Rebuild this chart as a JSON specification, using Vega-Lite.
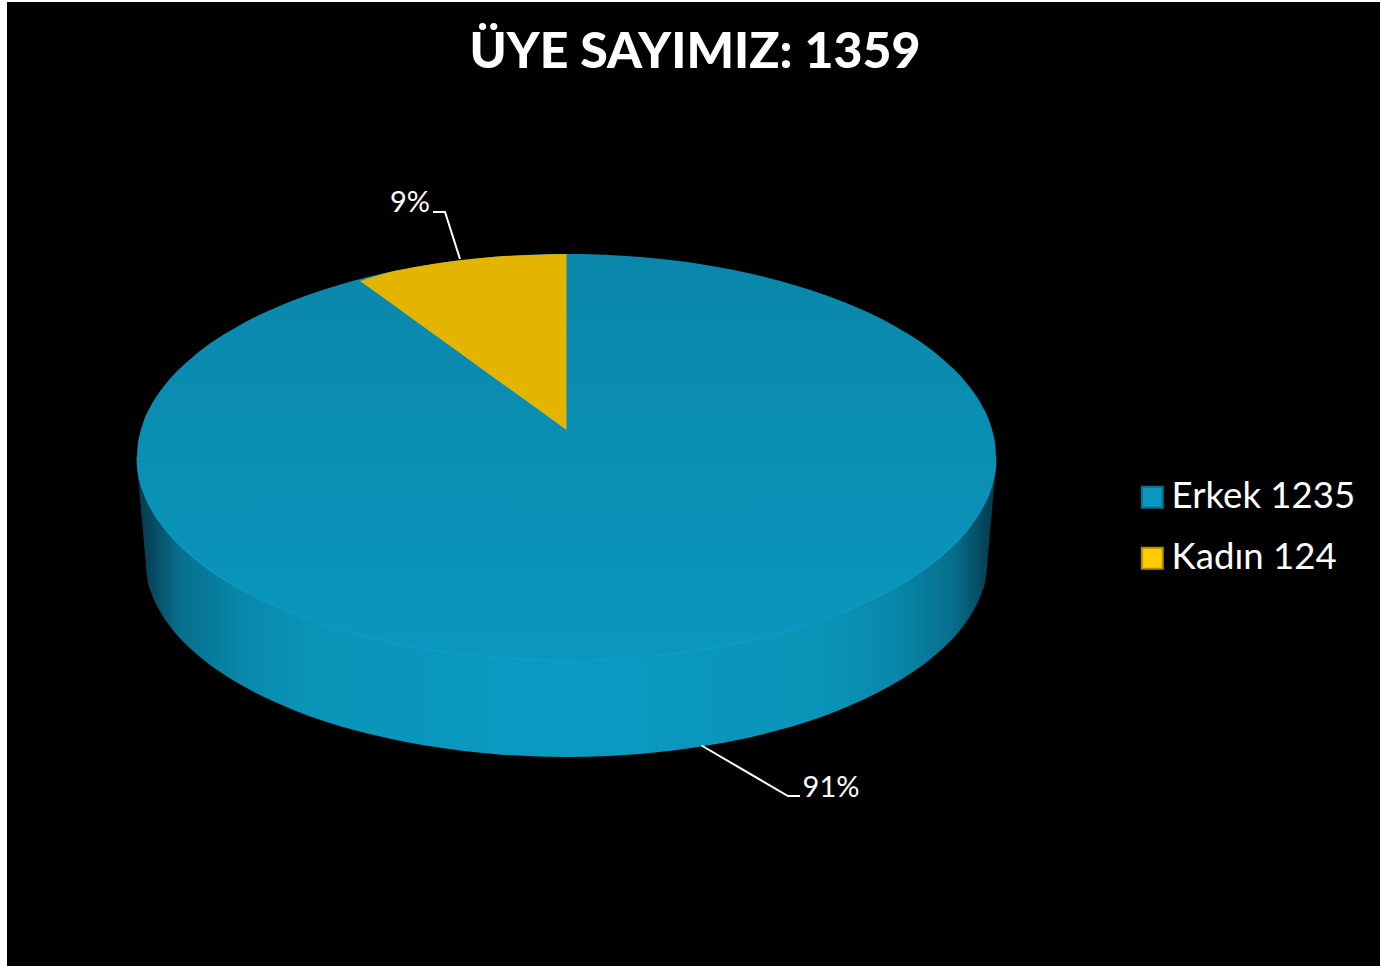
{"$schema":"https://vega.github.io/schema/vega-lite/v6.json","autosize":{"type":"fit","contains":"padding"},"width":1380,"height":966,"padding":{"left":7,"top":2,"right":0,"bottom":0},"background":"white","view":{"fill":"black","stroke":null},
"title":{"text":"ÜYE SAYIMIZ: 1359","font":"Lato","fontWeight":900,"fontSize":50,"color":"white","anchor":"middle","frame":"group","offset":-76,"dx":1.5},
"datasets":{
"dilimler":[{"dilim":"Erkek 1235","sayi":1235,"oran":"91%","lx":831,"ly":787.5},{"dilim":"Kadın 124","sayi":124,"oran":"9%","lx":410,"ly":202.5}],
"yan":[{"x":137,"y":457,"y2":465},{"x":141,"y":457,"y2":510},{"x":145.5,"y":457,"y2":560},{"x":147.1,"y":457,"y2":577.2},{"x":151.9,"y":457,"y2":594.2},{"x":159.8,"y":457,"y2":611},{"x":170.9,"y":457,"y2":627.4},{"x":184.9,"y":457,"y2":643.3},{"x":201.9,"y":457,"y2":658.5},{"x":244,"y":457,"y2":686.6},{"x":295.9,"y":457,"y2":710.9},{"x":356,"y":457,"y2":730.6},{"x":422.5,"y":457,"y2":745.1},{"x":493.4,"y":457,"y2":754},{"x":566.5,"y":457,"y2":757},{"x":639.6,"y":457,"y2":754},{"x":710.5,"y":457,"y2":745.1},{"x":777,"y":457,"y2":730.6},{"x":837.1,"y":457,"y2":710.9},{"x":889,"y":457,"y2":686.6},{"x":931.1,"y":457,"y2":658.5},{"x":948.1,"y":457,"y2":643.3},{"x":962.1,"y":457,"y2":627.4},{"x":973.2,"y":457,"y2":611},{"x":981.1,"y":457,"y2":594.2},{"x":985.9,"y":457,"y2":577.2},{"x":987.5,"y":457,"y2":560},{"x":992,"y":457,"y2":510},{"x":996,"y":457,"y2":465}],
"ust":[{"x":137,"y":457,"y2":457},{"x":137.6,"y":446.4,"y2":467.6},{"x":139.4,"y":435.8,"y2":478.2},{"x":143.5,"y":421.7,"y2":492.3},{"x":151.6,"y":404.5,"y2":509.5},{"x":162.9,"y":387.6,"y2":526.4},{"x":194.5,"y":355.5,"y2":558.5},{"x":237.5,"y":326.5,"y2":587.5},{"x":290.4,"y":301.5,"y2":612.5},{"x":351.7,"y":281.2,"y2":632.8},{"x":419.6,"y":266.2,"y2":647.8},{"x":491.9,"y":257.1,"y2":656.9},{"x":566.5,"y":254,"y2":660},{"x":641.1,"y":257.1,"y2":656.9},{"x":713.4,"y":266.2,"y2":647.8},{"x":781.3,"y":281.2,"y2":632.8},{"x":842.6,"y":301.5,"y2":612.5},{"x":895.5,"y":326.5,"y2":587.5},{"x":938.5,"y":355.5,"y2":558.5},{"x":970.1,"y":387.6,"y2":526.4},{"x":981.4,"y":404.5,"y2":509.5},{"x":989.5,"y":421.7,"y2":492.3},{"x":993.6,"y":435.8,"y2":478.2},{"x":995.4,"y":446.4,"y2":467.6},{"x":996,"y":457,"y2":457}],
"kama":[{"x":360,"y":281,"y2":281},{"x":390,"y":272,"y2":302.6},{"x":419.6,"y":266.2,"y2":324},{"x":491.9,"y":257.1,"y2":376.2},{"x":566.5,"y":254,"y2":430}],
"kilavuz":[{"oran":"9%","s":1,"x":433,"y":212},{"oran":"9%","s":2,"x":445,"y":212},{"oran":"9%","s":3,"x":460,"y":259},{"oran":"91%","s":1,"x":701.5,"y":745.5},{"oran":"91%","s":2,"x":788,"y":796},{"oran":"91%","s":3,"x":800,"y":796}]
},
"encoding":{
"x":{"field":"x","type":"quantitative","scale":{"domain":[7,1380],"nice":false,"zero":false},"axis":null},
"y":{"field":"y","type":"quantitative","scale":{"domain":[966,2],"nice":false,"zero":false},"axis":null}
},
"layer":[
{"data":{"name":"yan"},"mark":{"type":"area","orient":"vertical","interpolate":"monotone","color":{"gradient":"linear","x1":0,"y1":0,"x2":1,"y2":0,"stops":[{"offset":0.008,"color":"#053f54"},{"offset":0.05,"color":"#076f8c"},{"offset":0.12,"color":"#0888aa"},{"offset":0.2,"color":"#0a94b8"},{"offset":0.5,"color":"#0a9ac2"},{"offset":0.8,"color":"#0a94b8"},{"offset":0.88,"color":"#0888aa"},{"offset":0.95,"color":"#076f8c"},{"offset":0.992,"color":"#053f54"}]}},"encoding":{"y2":{"field":"y2"}}},
{"data":{"name":"ust"},"mark":{"type":"area","orient":"vertical","interpolate":"monotone","color":{"gradient":"linear","x1":0,"y1":0,"x2":0,"y2":1,"stops":[{"offset":0,"color":"#0a87aa"},{"offset":1,"color":"#0a97be"}]}},"encoding":{"y2":{"field":"y2"}}},
{"data":{"name":"ust"},"mark":{"type":"line","interpolate":"monotone","color":"#0aa2cf","strokeWidth":1.2,"opacity":0.7},"encoding":{"y":{"field":"y2","type":"quantitative"}}},
{"data":{"name":"kama"},"mark":{"type":"area","orient":"vertical","interpolate":"monotone","color":"#e3b500"},"encoding":{"y2":{"field":"y2"}}},
{"data":{"name":"kilavuz"},"mark":{"type":"line","color":"white","strokeWidth":2},"encoding":{"detail":{"field":"oran"},"order":{"field":"s"}}},
{"data":{"name":"dilimler"},"mark":{"type":"text","font":"Lato","fontSize":29,"color":"white","align":"center","baseline":"middle"},"encoding":{"x":{"field":"lx","type":"quantitative"},"y":{"field":"ly","type":"quantitative"},"text":{"field":"oran"}}},
{"data":{"name":"dilimler"},"mark":{"type":"square","size":0,"strokeWidth":2,"opacity":1},"encoding":{"x":{"field":"lx","type":"quantitative"},"y":{"field":"ly","type":"quantitative"},
"fill":{"field":"dilim","type":"nominal","scale":{"domain":["Erkek 1235","Kadın 124"],"range":["#0a96be","#ffcc00"]},"legend":{"title":null,"orient":"none","legendX":1127,"legendY":477,"symbolType":"square","symbolSize":440,"symbolStrokeWidth":2,"labelFont":"Lato","labelFontSize":36.6,"labelColor":"white","labelOffset":1,"rowPadding":24,"labelLimit":300,"encode":{"symbols":{"update":{"stroke":{"scale":"stroke","field":"value"},"fill":{"scale":"fill","field":"value"}}}}}},
"stroke":{"field":"dilim","type":"nominal","scale":{"domain":["Erkek 1235","Kadın 124"],"range":["#0a6f8c","#b08d00"]},"legend":null}}}
]}
